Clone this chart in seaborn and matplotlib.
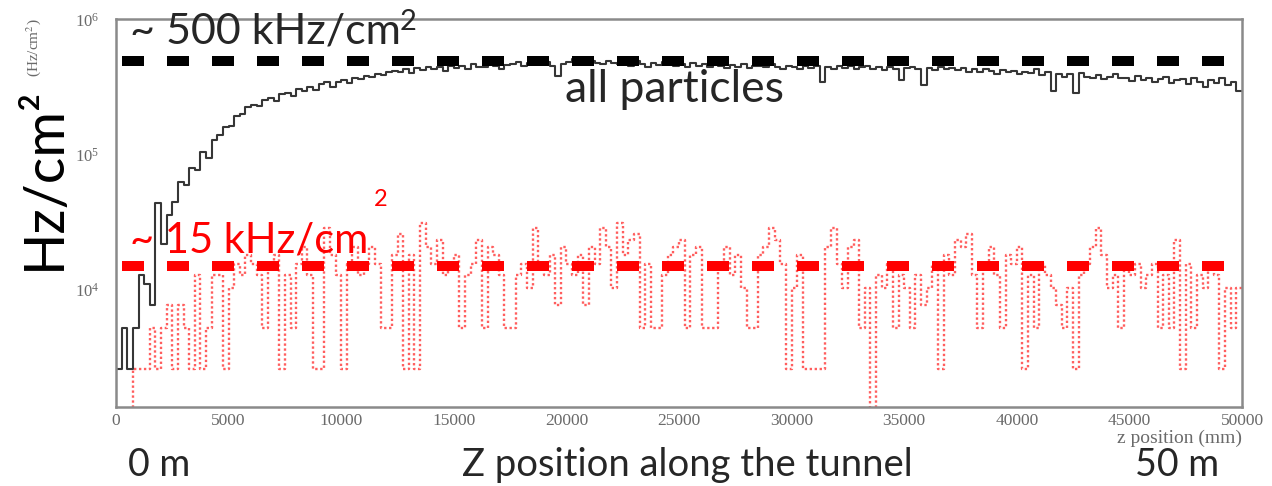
import numpy as np
import pandas as pd
import matplotlib
matplotlib.use("Agg")
import matplotlib.pyplot as plt
from matplotlib.ticker import FixedLocator, MultipleLocator, LogLocator, LogFormatterSciNotation, NullFormatter, StrMethodFormatter
import seaborn as sns

# ---- binning along the tunnel (mm) ----
z_min, z_max, n_bins = 0, 50000, 200

# flux of all particles per bin (kHz/cm^2)
all_particles_khz = [
    2.6, 5.2, 2.6, 5.2, 13, 11, 7.7, 44, 22, 36,
    45, 63, 60, 80, 78, 105, 95, 130, 140, 160,
    165, 195, 200, 225, 235, 230, 255, 265, 250, 285,
    290, 275, 310, 300, 320, 305, 335, 345, 320, 350,
    360, 340, 375, 365, 385, 380, 400, 390, 410, 420,
    415, 430, 405, 440, 425, 450, 430, 445, 420, 455,
    440, 460, 435, 470, 450, 445, 475, 455, 430, 465,
    470, 490, 455, 480, 500, 470, 485, 460, 385, 475,
    490, 510, 470, 485, 500, 480, 475, 495, 480, 470,
    485, 460, 495, 475, 450, 480, 465, 490, 470, 455,
    470, 445, 480, 460, 475, 450, 470, 455, 440, 465,
    450, 470, 440, 460, 455, 445, 470, 450, 435, 460,
    445, 430, 455, 440, 460, 345, 450, 435, 455, 440,
    455, 430, 445, 460, 435, 450, 425, 445, 430, 360,
    440, 445, 430, 330, 440, 425, 450, 430, 440, 425,
    440, 415, 430, 410, 435, 420, 400, 425, 410, 420,
    395, 415, 405, 430, 390, 410, 300, 395, 380, 395,
    290, 405, 380, 370, 390, 365, 380, 400, 370, 375,
    355, 385, 360, 370, 345, 365, 380, 340, 360, 365,
    335, 370, 350, 320, 360, 340, 375, 330, 350, 300,
]

# hits per bin for the selected component, and the flux one hit stands for
selected_hits = [
    0, 0, 0, 1, 1, 1, 2, 1, 2, 3,
    1, 3, 2, 1, 5, 1, 2, 5, 5, 1,
    4, 6, 5, 7, 6, 5, 2, 6, 7, 1,
    5, 2, 6, 8, 5, 1, 1, 11, 7, 5,
    1, 6, 8, 5, 6, 8, 6, 2, 2, 7,
    10, 1, 7, 1, 12, 8, 6, 9, 5, 6,
    7, 2, 5, 6, 9, 2, 8, 7, 5, 2,
    2, 5, 6, 4, 11, 6, 5, 7, 3, 8,
    6, 5, 7, 3, 8, 6, 11, 8, 4, 12,
    7, 9, 10, 2, 6, 2, 2, 5, 7, 8,
    9, 2, 7, 8, 2, 2, 2, 6, 8, 5,
    7, 4, 2, 2, 7, 8, 11, 9, 6, 1,
    4, 7, 1, 1, 1, 1, 8, 11, 6, 4,
    8, 9, 2, 4, 0, 5, 4, 6, 2, 5,
    4, 2, 5, 3, 4, 6, 1, 7, 5, 9,
    8, 10, 5, 2, 6, 8, 5, 2, 7, 6,
    8, 1, 5, 2, 6, 5, 4, 3, 2, 4,
    1, 5, 6, 8, 11, 7, 4, 5, 2, 6,
    5, 6, 4, 5, 6, 2, 5, 2, 9, 1,
    6, 2, 5, 4, 6, 5, 1, 4, 2, 4,
]
khz_per_hit = 2.6

# reference levels (kHz/cm^2)
level_all_khz = 500
level_selected_khz = 15

x_tick_values = [0, 5000, 10000, 15000, 20000, 25000, 30000, 35000, 40000, 45000, 50000]

# ---- table for seaborn ----
bin_width = (z_max - z_min) / n_bins
centers = z_min + bin_width * (np.arange(n_bins) + 0.5)
df = pd.DataFrame({
    "z": centers,
    "all": np.asarray(all_particles_khz) * 1e3,
    "selected": np.asarray(selected_hits) * khz_per_hit * 1e3,
})

sns.set_style("white")
plt.rcParams["font.family"] = ["Lato", "DejaVu Sans"]
plt.rcParams["mathtext.fontset"] = "stix"

W, H = 1272, 486
fig = plt.figure(figsize=(W / 100, H / 100), dpi=100)
ax = fig.add_axes([116 / W, 1 - 407 / H, (1242 - 116) / W, (407 - 19) / H])
ax.set_yscale("log")

hist_kw = dict(x="z", binwidth=bin_width, binrange=(z_min, z_max),
               element="step", fill=False, ax=ax)
sns.histplot(data=df, weights="selected", color="#ff1a1a",
             linestyle=(0, (1, 1.1)), linewidth=1.7, alpha=0.7, **hist_kw)
sns.histplot(data=df, weights="all", color="#202020", linewidth=1.5,
             alpha=0.9, **hist_kw)

ax.set_xlim(z_min, z_max)
ax.set_ylim(1360, 1.017e6)

# thick dashed reference levels
span = (0.0053, 0.9876)
ax.axhline(level_all_khz * 1e3, *span, color="black", linewidth=7.2,
           dashes=(2.2, 2.3), zorder=5)
ax.axhline(level_selected_khz * 1e3, *span, color="#ff0000", linewidth=7.2,
           dashes=(2.2, 2.3), zorder=5)

# axes in the style of the histogram package
for side, sp in ax.spines.items():
    sp.set_color("#8a8a8a")
    sp.set_linewidth(1.8)
ax.xaxis.set_major_locator(FixedLocator(x_tick_values))
ax.xaxis.set_minor_locator(MultipleLocator(1000))
ax.xaxis.set_major_formatter(StrMethodFormatter("{x:.0f}"))
ax.yaxis.set_major_locator(LogLocator(base=10))
ax.yaxis.set_minor_locator(LogLocator(base=10, subs=np.arange(2, 10)))
ax.yaxis.set_major_formatter(LogFormatterSciNotation(base=10))
ax.yaxis.set_minor_formatter(NullFormatter())
ax.tick_params(which="both", direction="in", color="#7a7a7a", width=1.2,
               labelcolor="#6a6a6a")
ax.tick_params(axis="x", which="major", length=8.5, pad=4, labelsize=12.5)
ax.tick_params(axis="x", which="minor", length=4.3)
ax.tick_params(axis="y", which="major", length=25, pad=12, labelsize=12)
ax.tick_params(axis="y", which="minor", length=12)
for lab in ax.get_xticklabels() + ax.get_yticklabels():
    lab.set_family(["Liberation Serif"])
ax.set_xlabel("")
ax.set_ylabel("")


def fx(x):
    return x / W


def fy(y):
    return 1 - y / H


serif = ["Liberation Serif"]
fig.text(fx(1242), fy(443), "z position (mm)", family=serif, fontsize=14,
         color="#6a6a6a", ha="right", va="baseline")
fig.text(fx(38), fy(18), "(Hz/cm$^2$)", family=serif, fontsize=11,
         color="#6a6a6a", rotation=90, rotation_mode="anchor",
         ha="right", va="baseline")

# large annotations
fig.text(fx(60), fy(270), "Hz/cm²", fontsize=40, rotation=90,
         rotation_mode="anchor", ha="left", va="baseline", color="black")

fig.text(fx(130), fy(43), "~ 500 kHz/cm", fontsize=31, ha="left", va="baseline")
fig.text(fx(400), fy(30), "2", fontsize=21, ha="left", va="baseline")
fig.text(fx(565), fy(102), "all particles", fontsize=32, ha="left", va="baseline")
fig.text(fx(130), fy(252), "~ 15 kHz/cm", fontsize=30, ha="left",
         va="baseline", color="#ff0000")
fig.text(fx(374), fy(206), "2", fontsize=17, ha="left", va="baseline",
         color="#ff0000")
fig.text(fx(128), fy(476), "0 m", fontsize=27, ha="left", va="baseline")
fig.text(fx(462), fy(476), "Z position along the tunnel", fontsize=27.5,
         ha="left", va="baseline")
fig.text(fx(1135), fy(476), "50 m", fontsize=27, ha="left", va="baseline")

fig.savefig("out.png", dpi=100)
